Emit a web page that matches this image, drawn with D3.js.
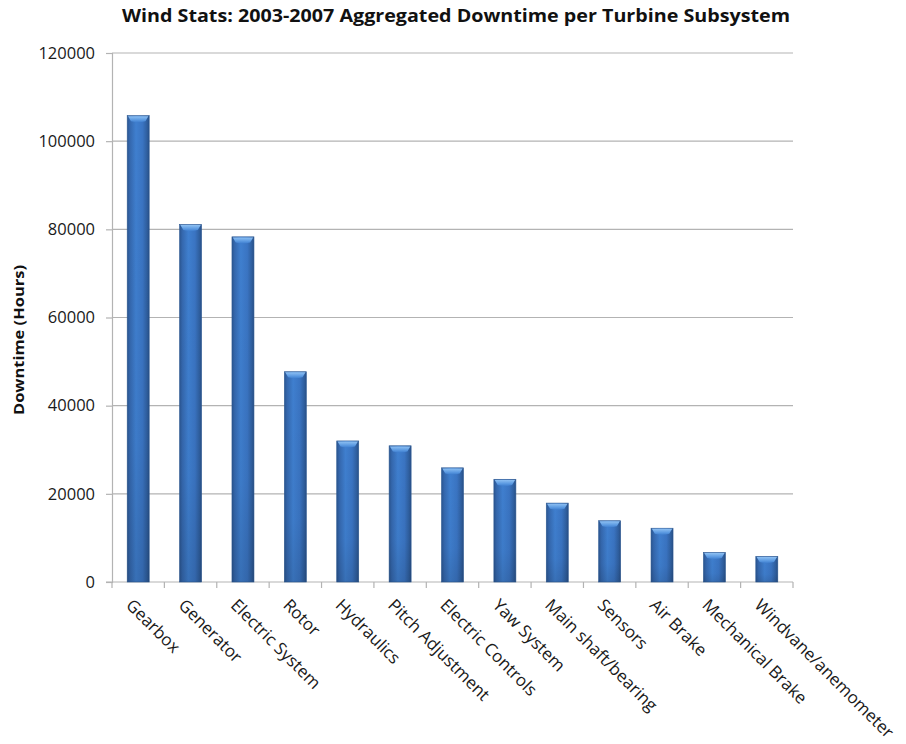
<!DOCTYPE html>
<html>
<head>
<meta charset="utf-8">
<script src="https://cdn.jsdelivr.net/npm/d3@7"></script>
<style>
  html, body { margin: 0; padding: 0; background: #fff; }
  svg { display: block; font-family: "Open Sans", "Liberation Sans", sans-serif; }
</style>
</head>
<body>
<svg id="chart" width="906" height="744"></svg>
<script>
// Subsystem downtime totals, 2003-2007
const subsystems = ["Gearbox", "Generator", "Electric System", "Rotor", "Hydraulics",
  "Pitch Adjustment", "Electric Controls", "Yaw System", "Main shaft/bearing",
  "Sensors", "Air Brake", "Mechanical Brake", "Windvane/anemometer"];
const downtimeHours = [105800, 81100, 78300, 47700, 32000, 30900, 25900, 23300, 17900, 13900, 12200, 6700, 5800];
const yTicks = [0, 20000, 40000, 60000, 80000, 100000, 120000];

const titleText = "Wind Stats: 2003-2007 Aggregated Downtime per Turbine Subsystem";
const yLabelText = "Downtime (Hours)";

const svg = d3.select("#chart");
const plotLeft = 112, plotRight = 793, plotTop = 53, plotBottom = 582;

const x = d3.scaleBand().domain(subsystems).range([plotLeft, plotRight])
  .paddingInner(0.58).paddingOuter(0.29);
const y = d3.scaleLinear().domain([0, 120000]).range([plotBottom, plotTop]);

// Bar shading
const defs = svg.append("defs");
const body = defs.append("linearGradient").attr("id", "barBody")
  .attr("x1", "0").attr("x2", "1").attr("y1", "0").attr("y2", "0");
[["0%", "#2a5590"], ["12%", "#3467ad"], ["40%", "#3f7fcf"], ["70%", "#3a74c2"], ["90%", "#2f5f9f"], ["100%", "#284f86"]]
  .forEach(([o, c]) => body.append("stop").attr("offset", o).attr("stop-color", c));
const shade = defs.append("linearGradient").attr("id", "barShade")
  .attr("x1", "0").attr("x2", "0").attr("y1", "0").attr("y2", "1");
[["0%", "#000", 0], ["70%", "#000", 0.03], ["100%", "#000", 0.12]]
  .forEach(([o, c, a]) => shade.append("stop").attr("offset", o).attr("stop-color", c).attr("stop-opacity", a));
const cap = defs.append("linearGradient").attr("id", "barCap")
  .attr("x1", "0").attr("x2", "0").attr("y1", "0").attr("y2", "1");
[["0%", "#8ec0f2"], ["60%", "#5d9be2"], ["100%", "#3f7fcf"]]
  .forEach(([o, c]) => cap.append("stop").attr("offset", o).attr("stop-color", c));

// Gridlines
svg.append("g").selectAll("line").data(yTicks.filter(d => d > 0)).join("line")
  .attr("x1", plotLeft).attr("x2", plotRight)
  .attr("y1", d => y(d)).attr("y2", d => y(d))
  .attr("stroke", "#b3b3b3").attr("stroke-width", 1.2);

// Y axis
const yAxis = svg.append("g").attr("transform", `translate(${plotLeft},0)`)
  .call(d3.axisLeft(y).tickValues(yTicks).tickFormat(d3.format("d")).tickSize(6).tickPadding(11));
yAxis.select(".domain").attr("stroke", "#b3b3b3").attr("stroke-width", 1.2);
yAxis.selectAll(".tick line").attr("stroke", "#b3b3b3").attr("stroke-width", 1.2);
yAxis.selectAll(".tick text").attr("font-size", 16.5).attr("fill", "#1a1a1a")
  .attr("font-family", "'Open Sans', sans-serif");

// X axis baseline and category boundary ticks
svg.append("line").attr("x1", plotLeft - 6).attr("x2", plotRight).attr("y1", plotBottom).attr("y2", plotBottom)
  .attr("stroke", "#b3b3b3").attr("stroke-width", 1.2);
const bounds = d3.range(subsystems.length + 1).map(i => plotLeft + i * x.step());
svg.append("g").selectAll("line").data(bounds).join("line")
  .attr("x1", d => d).attr("x2", d => d).attr("y1", plotBottom).attr("y2", plotBottom + 6)
  .attr("stroke", "#b3b3b3").attr("stroke-width", 1.2);

// Bars
const bars = svg.append("g").selectAll("g").data(subsystems.map((s, i) => ({ s, v: downtimeHours[i] })))
  .join("g");
bars.append("rect")
  .attr("x", d => x(d.s)).attr("width", x.bandwidth())
  .attr("y", d => y(d.v)).attr("height", d => y(0) - y(d.v))
  .attr("fill", "url(#barBody)").attr("stroke", "#2d5a94").attr("stroke-width", 0.6);
bars.append("rect")
  .attr("x", d => x(d.s)).attr("width", x.bandwidth())
  .attr("y", d => y(d.v)).attr("height", d => y(0) - y(d.v))
  .attr("fill", "url(#barShade)");
bars.append("path")
  .attr("d", d => {
    const x0 = x(d.s) + 0.8, x1 = x(d.s) + x.bandwidth() - 0.8, t = y(d.v) + 0.6, w = x1 - x0;
    return `M${x0},${t} L${x1},${t} L${x1 - 3},${t + 5} Q${x0 + w / 2},${t + 7} ${x0 + 3},${t + 5} Z`;
  })
  .attr("fill", "url(#barCap)");

// Category labels, rotated 45°
svg.append("g").selectAll("text").data(subsystems).join("text")
  .attr("transform", d => `translate(${x(d) + x.bandwidth() / 2 - 3},${plotBottom + 14}) rotate(45)`)
  .attr("text-anchor", "start").attr("dominant-baseline", "hanging")
  .attr("font-size", 17).attr("fill", "#1a1a1a")
  .text(d => d);

// Title
svg.append("text").attr("x", 456).attr("y", 22)
  .attr("text-anchor", "middle").attr("font-size", 17.5).attr("font-weight", "bold")
  .attr("fill", "#111").attr("textLength", 668).attr("lengthAdjust", "spacingAndGlyphs")
  .text(titleText);

// Y axis title
svg.append("text").attr("transform", "translate(24,340) rotate(-90)")
  .attr("text-anchor", "middle").attr("font-size", 14.5).attr("font-weight", "bold")
  .attr("fill", "#111").attr("textLength", 150).attr("lengthAdjust", "spacingAndGlyphs")
  .text(yLabelText);
</script>
</body>
</html>
